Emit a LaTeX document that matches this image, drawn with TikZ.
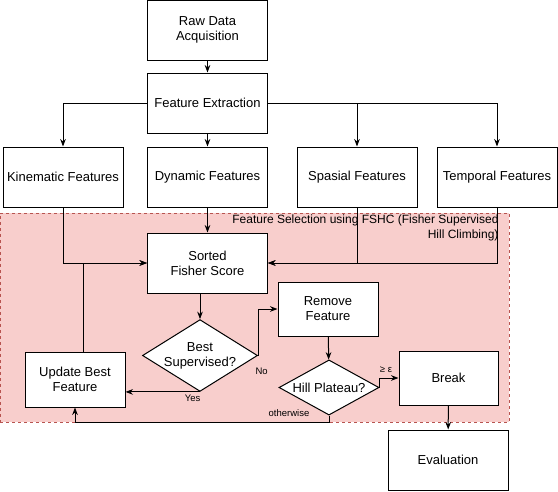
\documentclass[tikz,border=0pt]{standalone}
\usepackage{fontspec}
\setmainfont{Liberation Sans}
\usetikzlibrary{
  calc, % For coordinate calculations
  shapes.geometric, % For the decision diamonds
  arrows.meta % For arrow tips
}
\definecolor{fshcfill}{HTML}{F8CECC}
\definecolor{fshcline}{HTML}{B85450}

\begin{document}
\begin{tikzpicture}[
      x=1pt, y=-1pt, % Pixel-like units, y downwards
      line width=1pt, % Default line thickness
      >=Stealth, % Default arrow tip
      box/.style={draw, fill=white, minimum width=120pt, minimum height=60pt,
        align=center, font=\fontsize{13}{15}\selectfont},
      decision/.style={draw, fill=white, diamond, aspect=1.6, inner sep=0pt,
        align=center, font=\fontsize{13}{15}\selectfont},
      region/.style={draw=fshcline, fill=fshcfill, line width=0.75pt,
        dash pattern=on 3pt off 3pt},
      flow/.style={->},
      lbl/.style={font=\fontsize{9.5}{11}\selectfont, inner sep=1pt},
    ]
    \useasboundingbox (0,0) rectangle (558,491);
    % Bereich FSHC
    \node[region, minimum width=509pt, minimum height=209pt] (fshc) at (254.5,317.5) {};
    \node[anchor=north east, align=right, inner sep=0pt,
      font=\fontsize{12}{15}\selectfont] (fshclbl) at (499,214)
      {Feature Selection using FSHC (Fisher Supervised\\Hill Climbing)};
    % Knoten oben
    \node[box] (raw) at (207.5,30) {Raw Data\\Acquisition};
    \node[box] (extract) at (207.5,103) {Feature Extraction};
    \node[box] (kin) at (63,177) {Kinematic Features};
    \node[box] (dyn) at (207.5,177) {Dynamic Features};
    \node[box] (spa) at (357,177) {Spasial Features};
    \node[box] (tem) at (497,177) {Temporal Features};
    % Knoten im Bereich
    \node[box] (sorted) at (207.5,263) {Sorted\\Fisher Score};
    \node[decision, minimum width=115pt, minimum height=71pt] (best) at (200,355.5)
      {Best\\Supervised?};
    \node[box, minimum width=100pt, minimum height=55pt] (update) at (75,379.5)
      {Update Best\\Feature};
    \node[box, minimum width=100pt, minimum height=54pt] (remove) at (328,309)
      {Remove\\Feature};
    \node[decision, minimum width=100pt, minimum height=51pt] (hill) at (329,387.5)
      {Hill Plateau?};
    \node[box, minimum width=99pt, minimum height=54pt] (brk) at (448.5,378) {Break};
    \node[box] (eval) at (448,460) {Evaluation};
    % Pfeile oben
    \draw[flow] (raw) -- (extract);
    \draw[flow] (extract) -- (dyn);
    \draw[flow] (extract.west) -| (kin.north);
    \draw[flow] (extract.east) -| (spa.north);
    \draw[flow] (extract.east) -| (tem.north);
    % Pfeile zur Sortierung
    \draw[flow] (dyn) -- (sorted);
    \draw[flow] (kin.south) |- (sorted.west);
    \draw[flow] (spa.south) |- (sorted.east);
    \draw[flow] (tem.south) |- (sorted.east);
    \draw[flow] ([xshift=8pt]update.north) |- (sorted.west);
    % Entscheidungen
    \draw[flow] (best.north |- sorted.south) -- (best.north);
    \draw[flow] (best.south) -- (update.east |- best.south)
      node[lbl, pos=0.1, below, yshift=-2pt] {Yes};
    \draw[flow] (best.east) |- (remove.west);
    \node[lbl, anchor=north west] (nolbl) at (254,366) {No};
    \draw[flow] (remove) -- (hill);
    \draw[flow] (hill.east) |- (brk.west);
    \node[lbl, anchor=south] (gelbl) at (386,374) {≥ ε};
    \coordinate (otw) at ($(hill.south)+(0,7)$);
    \draw[flow] (hill.south) -- (otw) -| (update.south);
    \node[lbl, anchor=south] (otwlbl) at (289,418) {otherwise};
    \draw[flow] (brk) -- (eval);

  \end{tikzpicture}
\end{document}
